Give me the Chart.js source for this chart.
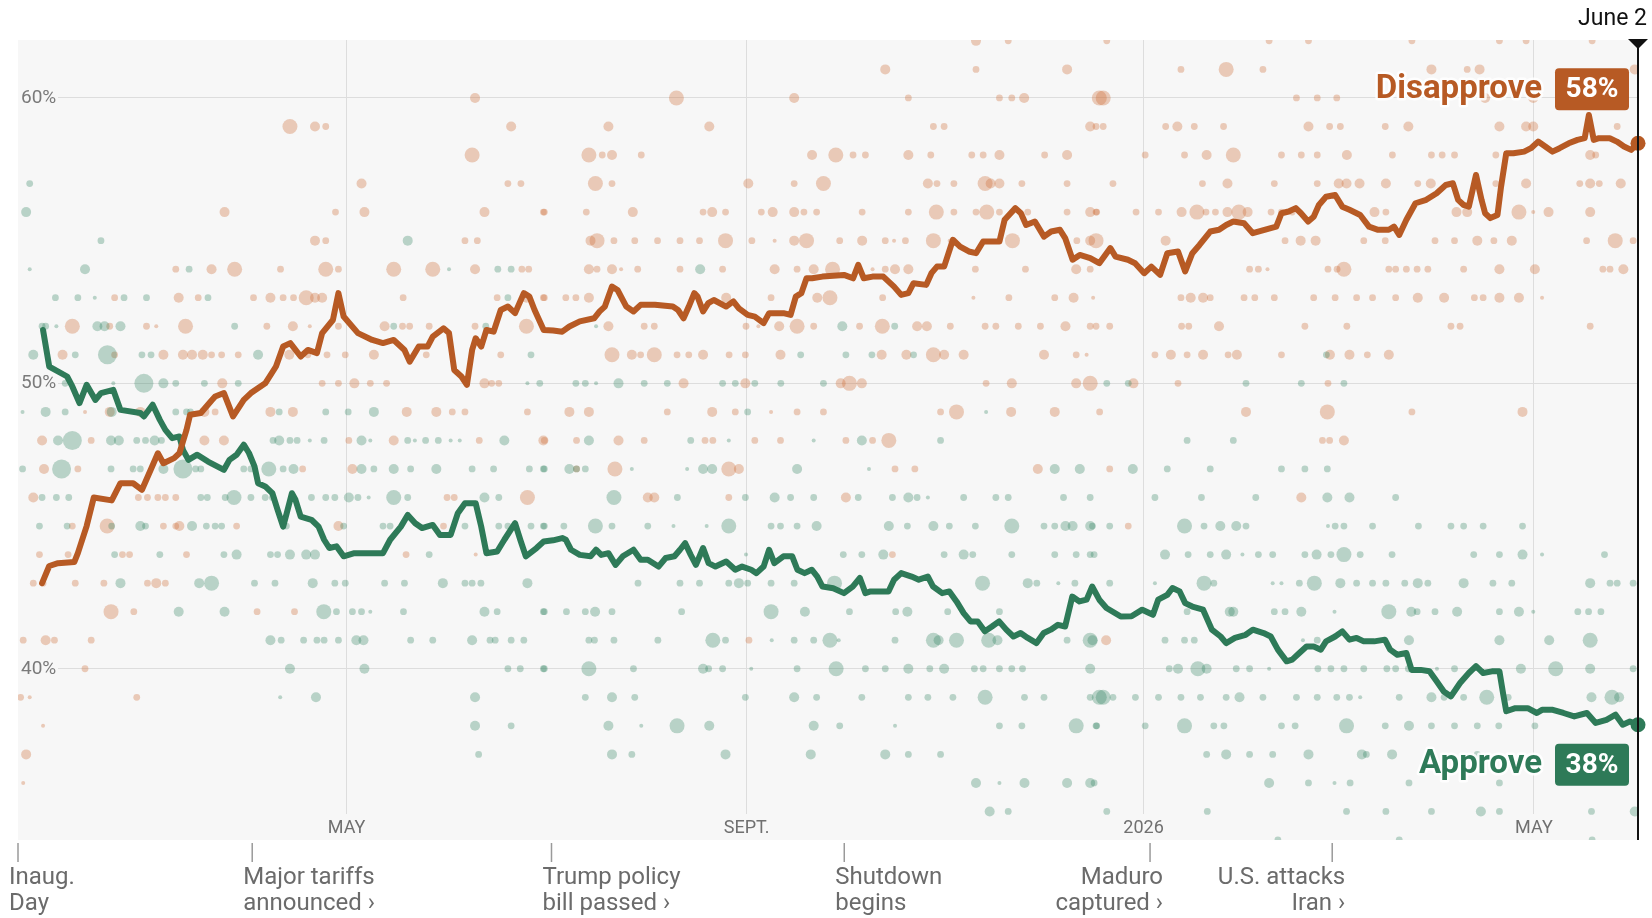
<!DOCTYPE html>
<html lang="en">
<head>
<meta charset="UTF-8">
<title>Trump approval rating</title>
<script src="https://cdn.jsdelivr.net/npm/chart.js"></script>
<style>
    body { margin: 0; background: #ffffff; }
    #wrap { width: 1652px; height: 918px; }
</style>
</head>
<body>
<div id="wrap"><canvas id="mainChart" width="1652" height="918"></canvas></div>
<script>
// x values are days since Inauguration Day (Jan. 20, 2025)
const monthTicks = [101, 224, 346, 466];
const monthLabels = ['MAY', 'SEPT.', '2026', 'MAY'];
const percentTicks = [40, 50, 60];
const lastDay = 498;
const lastDayLabel = 'June 2';

const eventDays = [0, 72, 164, 254, 348, 404];
const eventLabels = [
    ['Inaug.', 'Day'],
    ['Major tariffs', 'announced \u203A'],
    ['Trump policy', 'bill passed \u203A'],
    ['Shutdown', 'begins'],
    ['Maduro', 'captured \u203A'],
    ['U.S. attacks', 'Iran \u203A']
];

// polling averages [day, percent]
const disapproveAvg = [
    [7.4,43.0],[9.6,43.6],[12.3,43.7],[17.3,43.74],[18.4,44.05],[21.1,45.0],[23.3,46.0],[28.8,45.9],[31.5,46.5],[35.4,46.5],
    [38.1,46.27],[40.9,47.0],[43.0,47.55],[44.7,47.2],[48.0,47.38],[49.6,47.55],[51.8,48.37],[52.9,48.9],[56.2,48.96],[59.5,49.4],
    [60.6,49.54],[63.3,49.66],[66.1,48.84],[69.4,49.42],[71.6,49.66],[76.0,50.0],[79.3,50.59],[81.5,51.29],[83.7,51.41],[86.9,50.94],
    [89.1,51.17],[91.9,51.06],[93.5,51.76],[96.8,52.22],[98.5,53.16],[100.1,52.34],[104.5,51.76],[108.9,51.52],[112.2,51.41],[115.5,51.52],
    [118.8,51.17],[120.4,50.76],[123.2,51.29],[125.9,51.29],[127.5,51.64],[130.8,51.93],[132.5,51.76],[134.1,50.47],[136.3,50.24],[138.0,49.95],
    [139.6,51.17],[140.7,51.58],[142.4,51.29],[144.0,51.87],[146.2,51.81],[148.4,52.57],[150.6,52.69],[152.8,52.46],[155.5,53.16],[157.2,53.04],
    [158.8,52.57],[161.6,51.87],[164.5,51.85],[167.3,51.81],[169.5,51.99],[172.7,52.17],[177.1,52.28],[178.8,52.52],[180.4,52.69],[182.6,53.39],
    [184.3,53.27],[187.0,52.69],[189.2,52.52],[191.4,52.75],[195.8,52.75],[201.3,52.69],[202.9,52.57],[204.6,52.28],[206.2,52.69],[207.9,53.16],
    [208.9,53.04],[210.6,52.52],[212.2,52.81],[213.9,52.92],[217.7,52.69],[219.9,52.87],[221.6,52.63],[224.3,52.40],[226.5,52.34],[229.2,52.11],
    [230.9,52.46],[235.3,52.46],[237.5,52.40],[239.1,53.04],[240.8,53.16],[242.4,53.68],[244.1,53.68],[247.3,53.74],[253.9,53.80],[256.7,53.68],
    [258.3,54.15],[260.0,53.68],[262.7,53.74],[266.0,53.74],[269.3,53.39],[271.5,53.10],[273.7,53.16],[275.3,53.51],[279.2,53.45],[280.8,53.86],
    [282.5,54.09],[284.7,54.09],[287.4,55.03],[289.6,54.79],[292.3,54.62],[294.5,54.56],[296.7,54.97],[301.7,54.97],[303.3,55.73],[306.6,56.14],
    [308.3,55.96],[309.9,55.55],[312.6,55.67],[315.4,55.14],[317.6,55.32],[320.3,55.38],[321.9,55.09],[324.2,54.33],[326.4,54.50],[329.6,54.39],
    [332.4,54.21],[335.8,54.74],[337.4,54.44],[341.2,54.33],[343.4,54.21],[346.2,53.86],[348.4,54.09],[351.1,53.80],[353.3,54.56],[356.6,54.62],
    [358.8,53.92],[361.0,54.56],[363.2,54.85],[366.5,55.32],[369.2,55.38],[371.4,55.55],[373.6,55.67],[376.9,55.61],[379.6,55.26],[385.1,55.44],
    [386.8,55.49],[388.4,55.96],[390.6,56.02],[392.8,56.14],[394.4,55.96],[396.6,55.67],[398.3,55.84],[399.9,56.25],[402.1,56.54],[404.9,56.60],
    [407.1,56.19],[409.3,56.08],[412.6,55.90],[415.3,55.49],[418.1,55.38],[421.4,55.38],[423.0,55.49],[424.6,55.20],[426.8,55.73],[429.6,56.31],
    [432.9,56.43],[436.1,56.66],[438.9,56.95],[441.1,57.01],[442.7,56.43],[444.4,56.25],[446.0,56.19],[448.2,57.30],[449.9,56.43],[451.0,55.96],
    [452.6,55.79],[454.8,55.90],[455.9,56.89],[457.5,58.06],[459.7,58.06],[463.0,58.12],[465.1,58.24],[467.3,58.47],[469.5,58.30],[471.7,58.12],
    [473.9,58.24],[476.7,58.41],[479.4,58.53],[481.6,58.59],[482.9,59.40],[484.4,58.53],[486.0,58.59],[489.3,58.59],[491.5,58.47],[493.7,58.30],
    [495.9,58.18],[498,58.41]
];

const approveAvg = [
    [7.7,51.87],[9.6,50.59],[15.1,50.24],[16.7,49.89],[18.9,49.31],[21.1,49.95],[23.8,49.42],[25.5,49.66],[29.3,49.77],[31.5,49.07],
    [37.6,48.96],[38.7,48.84],[41.4,49.25],[43.6,48.72],[45.3,48.37],[47.4,48.08],[49.6,48.14],[50.7,47.67],[52.4,47.32],[55.1,47.50],
    [58.4,47.26],[63.3,46.97],[65.0,47.32],[67.2,47.50],[69.4,47.85],[71.0,47.56],[72.7,47.09],[73.8,46.50],[76.0,46.39],[78.2,46.15],
    [79.8,45.57],[81.5,44.98],[82.6,45.45],[84.2,46.15],[85.3,45.92],[86.9,45.33],[90.2,45.22],[92.4,44.98],[94.1,44.52],[95.7,44.23],
    [97.9,44.29],[100.1,43.94],[103.4,44.05],[112.2,44.05],[114.4,44.52],[117.7,44.98],[119.8,45.39],[122.1,45.10],[124.2,44.93],[127.5,45.04],
    [129.7,44.69],[133.0,44.69],[135.2,45.45],[137.4,45.80],[140.7,45.80],[142.4,44.98],[144.0,44.05],[147.3,44.11],[149.5,44.52],[152.8,45.10],
    [154.4,44.52],[156.1,43.94],[159.4,44.23],[161.6,44.46],[164.5,44.50],[167.3,44.58],[168.4,44.52],[170.0,44.17],[172.7,43.99],[176.0,43.94],
    [177.7,44.17],[179.3,43.99],[181.5,44.05],[183.7,43.64],[185.9,43.94],[189.2,44.17],[191.4,43.82],[193.6,43.82],[196.9,43.58],[199.1,43.88],
    [201.8,43.94],[203.5,44.17],[205.1,44.40],[206.8,43.99],[208.4,43.64],[210.6,44.23],[212.3,43.70],[214.4,43.58],[217.7,43.76],[220.5,43.47],
    [222.6,43.58],[225.4,43.47],[227.0,43.35],[229.2,43.58],[230.9,44.17],[232.5,43.70],[235.3,43.94],[238.0,43.94],[239.6,43.47],[241.8,43.35],
    [244.0,43.47],[245.7,43.23],[247.3,42.88],[250.6,42.82],[253.9,42.65],[256.6,42.88],[258.8,43.18],[260.5,42.65],[262.1,42.71],[267.6,42.71],
    [269.3,43.12],[271.5,43.35],[274.7,43.23],[276.9,43.12],[279.7,43.23],[281.3,42.88],[284.1,42.65],[286.3,42.71],[288.5,42.36],[290.7,41.95],
    [292.8,41.66],[295.0,41.66],[297.2,41.31],[299.4,41.48],[301.6,41.66],[303.8,41.37],[306.0,41.13],[308.2,41.25],[310.4,41.08],[313.1,40.90],
    [315.3,41.25],[317.5,41.37],[319.7,41.54],[321.9,41.48],[324.1,42.53],[326.3,42.36],[328.5,42.42],[330.2,42.88],[332.4,42.42],[334.6,42.13],
    [339.0,41.83],[342.3,41.84],[345.6,42.07],[348.9,41.89],[350.5,42.42],[353.3,42.59],[354.9,42.83],[357.1,42.71],[358.8,42.30],[361.0,42.18],
    [364.3,42.07],[367.0,41.37],[369.7,41.13],[371.4,40.90],[374.1,41.08],[377.4,41.19],[379.6,41.37],[382.9,41.25],[385.1,41.13],[387.3,40.67],
    [390.0,40.26],[391.7,40.32],[393.9,40.55],[396.1,40.78],[398.3,40.78],[400.5,40.67],[402.1,40.96],[404.9,41.13],[407.1,41.31],[409.3,41.02],
    [411.5,41.08],[413.7,40.96],[416.9,40.96],[420.2,41.02],[421.8,40.67],[424.0,40.49],[426.8,40.55],[428.4,39.96],[431.2,39.96],[433.9,39.91],
    [436.1,39.56],[438.3,39.20],[440.5,39.03],[443.3,39.50],[446.0,39.85],[448.2,40.09],[450.4,39.85],[453.1,39.91],[455.4,39.91],[456.5,39.15],
    [457.5,38.51],[460.3,38.62],[464.1,38.62],[466.9,38.45],[468.5,38.56],[471.8,38.56],[475.1,38.45],[478.4,38.33],[482.3,38.45],[485.0,38.10],
    [488.3,38.21],[491.1,38.39],[493.3,38.04],[495.5,38.15],[498,38.04]
];

// individual polls [day, percent, size class 1-5]
const disapprovePolls = [
    [140.5,60,3],
    [83.6,59,4],[91.3,59,3],[94.6,59,2],[151.6,59,3],
    [139.6,58,4],
    [105.6,57,3],[150.6,57,2],[154.6,57,2],
    [63.5,56,3],[97.6,56,2],[106.5,56,3],[143.4,56,3],[161.5,56,2],
    [91.3,55,3],[94.6,55,2],[137.4,55,2],[141.2,55,2],
    [48.5,54,2],[59.5,54,3],[66.6,54,4],[80.7,54,2],[94.6,54,4],[98.5,54,2],[115.5,54,4],[127.5,54,4],[140.5,54,3],[154.9,54,2],[157,54,2],
    [29.7,53,2],[49.4,53,3],[55.4,53,2],[72.4,53,2],[77.6,53,3],[81.5,53,2],[84.7,53,2],[88.6,53,4],[91.3,53,3],[93.5,53,3],[118.4,53,2],[147.3,53,2],[156.3,53,3],[161.5,53,2],
    [16.7,52,4],[28.2,52,2],[39.5,52,2],[42.5,52,1],[51.5,52,4],[76.5,52,2],[84.5,52,3],[89.7,52,1],[98.5,52,2],[112.7,52,3],[118.2,52,2],[120.4,52,2],[126.4,52,2],[140.5,52,2],[156.3,52,4],
    [13.7,51,3],[29.7,51,2],[44.7,51,3],[50.7,51,3],[53.5,51,3],[56.8,51,3],[59.5,51,2],[62.6,51,2],[67.7,51,2],[83.4,51,3],[89.1,51,2],[95,51,2],[100.6,51,2],[109.4,51,3],[125.5,51,2],[148.4,51,2],
    [62.8,50,3],[93.5,50,2],[98.5,50,2],[103.4,50,3],[108.3,50,2],[113.3,50,2],[143.4,50,3],[145.6,50,2],[147.8,50,2],
    [20.6,49,1],[28.2,49,3],[37.6,49,3],[57.3,49,3],[60.6,49,2],[77.6,49,3],[84.5,49,3],[119.5,49,3],[128.6,49,3],[133.5,49,2],[137.4,49,2],[156.6,49,2],
    [7.4,48,3],[22.5,48,2],[57.3,48,3],[63.3,48,3],[101.7,48,2],[115.5,48,3],[141.8,48,2],[161.5,48,3],
    [8,47,3],[18.4,47,2],[87.5,47,2],[102.8,47,3],
    [4.7,46,3],[37,46,2],[39.8,46,2],[43,46,2],[45.3,46,2],[48.5,46,2],[131.9,46,2],[134.1,46,2],[156.6,46,4],
    [16.7,45,2],[27.4,45,4],[44.7,45,2],[48.5,45,2],[49.6,45,3],[67.2,45,2],[98.5,45,3],[130.8,45,2],
    [6.6,44,2],[15.4,44,2],[32.1,44,2],[34.3,44,2],[51.8,44,2],[119.3,44,2],[140.7,44,1],
    [4.7,43,2],[7.7,43,2],[17.6,43,2],[26.4,43,2],[39.8,43,2],[42.5,43,3],[45.3,43,2],
    [28.6,42,4],[35.6,42,2],[73.5,42,2],[85,42,2],
    [1.6,41,2],[8.5,41,3],[11.2,41,2],[22.5,41,2],
    [20.6,40,2],
    [0.8,39,2],[3.6,39,1],[36.5,39,2],
    [7.7,38,1],
    [2.5,37,3],
    [1.6,36,1],
    [294.5,62,3],[304.4,62,2],
    [266.6,61,3],[294.5,61,2],[322.5,61,3],
    [202.4,60,4],[238.6,60,3],[273.7,60,2],[301.7,60,2],[305.5,60,2],[309.3,60,3],[332.4,60,4],
    [181.5,59,3],[212.5,59,3],[281.4,59,2],[284.7,59,2],[329.6,59,3],
    [175.5,58,4],[179.6,58,2],[182.6,58,3],[191.6,58,2],[244.1,58,3],[251.4,58,4],[256.7,58,2],[260.5,58,2],[273.7,58,3],[280.6,58,2],[293.2,58,2],[296.7,58,2],[301.7,58,3],[315.6,58,2],[322.5,58,3],
    [177.5,57,4],[182.6,57,2],[224.5,57,3],[238.6,57,2],[247.6,57,4],[279.7,57,3],[282.5,57,2],[287.7,57,2],[297.3,57,4],[299,57,3],[301.7,57,3],[308.6,57,2],[322.5,57,2],
    [161.8,56,2],[174.7,56,2],[189,56,3],[210.6,56,2],[213.4,56,3],[217.5,56,2],[228.5,56,2],[232,56,3],[238.6,56,3],[241.6,56,2],[245.5,56,2],[259.5,56,2],[273.7,56,2],[282.3,56,4],[287.7,56,2],[294.5,56,2],[297.8,56,4],[301.7,56,2],[310.4,56,2],[322.5,56,2],[329.6,56,3],[331.6,56,2],
    [176,55,3],[178,55,4],[183.2,55,2],[189.6,55,2],[196.6,55,2],[203.5,55,2],[209.5,55,2],[217.5,55,4],[225.6,55,2],[232.6,55,1],[238.6,55,3],[242.4,55,4],[252.6,55,2],[259.5,55,3],[266.6,55,2],[269.3,55,1],[272.8,55,2],[281.4,55,4],[286.4,55,1],[305.7,55,4],[325.5,55,2],[329.6,55,3],
    [175.5,54,3],[178,54,2],[182.6,54,3],[185.4,54,1],[190.5,54,2],[203.5,54,2],[216.6,54,2],[232.6,54,3],[239.5,54,2],[244.6,54,3],[250.4,54,4],[262.7,54,1],[266.6,54,2],[269.6,54,3],[273.7,54,3],[294.3,54,2],[309.7,54,2],[325.3,54,3],[329.6,54,2],
    [161.8,53,2],[168.4,53,2],[171.5,53,2],[175.5,53,3],[217.7,53,3],[231.5,53,2],[245.7,53,3],[249.6,53,4],[265.8,53,2],[293.7,53,1],[304.6,53,2],[318.7,53,2],[324.5,53,3],[330.5,53,1],
    [181.5,52,3],[192.5,52,2],[195.6,52,2],[223.8,52,2],[227.6,52,1],[234,52,3],[239.5,52,4],[244.6,52,2],[258.7,52,2],[265.7,52,4],[276.4,52,3],[279.4,52,3],[286.6,52,2],[297.3,52,2],[300.6,52,2],[307.5,52,2],[314.3,52,2],[322,52,3],[329.6,52,2],
    [182.6,51,4],[188.7,51,3],[191.4,51,2],[195.6,51,4],[202.6,51,2],[206.2,51,2],[210.6,51,3],[218.6,51,2],[223.6,51,2],[234.4,51,3],[265.5,51,3],[273.1,51,3],[281.4,51,4],[284.7,51,3],[290.7,51,3],[315.4,51,3],[325.3,51,2],[328.5,51,1],
    [204.6,50,3],[223.6,50,3],[252.9,50,3],[255.6,50,4],[259.4,50,3],[297.6,50,2],[305.5,50,3],[325.3,50,3],[329.6,50,4],
    [169.5,49,3],[175.5,49,3],[199.6,49,2],[213.4,49,3],[220.5,49,2],[231.5,49,1],[239.5,49,2],[247.6,49,2],[283.6,49,2],[288.5,49,4],[305.3,49,3],[318.7,49,3],
    [161.8,48,2],[171.7,48,2],[184.6,48,3],[192.5,48,2],[211.2,48,2],[213.6,48,2],[226.5,48,2],[234.4,48,2],[254.5,48,2],[262.7,48,2],[267.7,48,4],
    [171.7,47,2],[183.5,47,4],[218.5,47,4],[221.6,47,3],[269.6,47,2],[275.7,47,2],[313.5,47,3],
    [193.6,46,3],[195.6,46,3],[218.5,46,2],[254.5,46,3],
    [268.8,44,2],[224.7,41,2],
    [334.7,62,2],[384.6,62,2],[396.7,62,2],[428.5,62,2],[455.4,62,2],[463.6,62,2],[483.9,62,2],
    [357.5,61,2],[371.4,61,4],[382.7,61,2],[434.5,61,3],[445.5,61,2],[449.3,61,3],[497,61,3],
    [333.6,60,4],[393,60,2],[399.4,60,2],[405.4,60,2],[451,60,3],[465.8,60,3],
    [331.4,59,2],[333.6,59,2],[352.8,59,2],[356.4,59,3],[361.6,59,2],[370.6,59,2],[396.7,59,3],[403.2,59,2],[406.5,59,2],[420.3,59,2],[427.4,59,3],[455.4,59,3],[463.6,59,3],[465.8,59,3],[491.6,59,2],
    [346.5,58,2],[358.6,58,2],[365.4,58,3],[373.6,58,4],[388.4,58,2],[394.5,58,2],[399.4,58,2],[408.5,58,3],[422.5,58,2],[434.5,58,2],[437.8,58,2],[441.6,58,2],[454.3,58,2],[483.3,58,3],[485,58,2],
    [336.6,57,2],[364.1,57,2],[371.8,57,3],[386.2,57,2],[399.4,57,2],[406,57,3],[408.4,57,3],[412.4,57,3],[420.5,57,3],[430.3,57,2],[434.3,57,3],[454.3,57,2],[463.6,57,3],[480.1,57,2],[483.3,57,3],[486.1,57,2],[492.7,57,3],
    [331.4,56,2],[343.7,56,2],[350.6,56,2],[357.7,56,3],[362.4,56,4],[365.2,56,2],[368.1,56,2],[371.8,56,3],[375.3,56,4],[378,56,3],[385.2,56,2],[388.4,56,2],[391.7,56,2],[417,56,3],[420.5,56,2],[442.2,56,3],[445.5,56,3],[461.4,56,4],[465.8,56,1],[470.5,56,3],[483.3,56,3],
    [331.4,55,4],[352.8,55,3],[389.5,55,2],[394.3,55,3],[398.9,55,3],[413.7,55,2],[420.3,55,2],[435.6,55,2],[441.6,55,2],[448.6,55,3],[453.7,55,2],[459.2,55,3],[482.2,55,2],[491,55,4],[496.5,55,2],
    [378.6,54,2],[381.3,54,2],[384.1,54,1],[402.7,54,2],[405.5,54,2],[407.6,54,4],[421.4,54,2],[423.5,54,2],[426.8,54,2],[430.1,54,2],[433.4,54,2],[444.4,54,2],[455.4,54,3],[466.3,54,3],[487.2,54,2],[489.4,54,2],[493.5,54,3],
    [357.5,53,2],[360.5,53,3],[364.3,53,3],[366.5,53,2],[376.9,53,2],[380.2,53,2],[386.2,53,2],[398.3,53,2],[404.9,53,2],[411.5,53,2],[416.4,53,2],[423.5,53,2],[430.3,53,3],[438.4,53,3],[447.7,53,2],[450.4,53,2],[455.4,53,3],[461.4,53,3],[468.5,53,1],
    [331.4,52,2],[335.6,52,2],[357.7,52,2],[359.9,52,2],[369.2,52,3],[395.6,52,2],[408.5,52,2],[440.5,52,2],[443.3,52,2],[483.3,52,2],
    [349.5,51,2],[354.4,51,3],[359.4,51,2],[364.3,51,3],[372,51,2],[374.7,51,3],[388.4,51,2],[403.3,51,3],[409.3,51,3],[414.8,51,2],[421.4,51,3],
    [342.9,50,3],[356.6,50,2],[402.7,50,2],
    [332.5,49,2],[377.5,49,3],[402.5,49,4],[428.5,49,2],[462.5,49,3],
    [401,48,2],[403.2,48,2],[407.6,48,3],
    [335.6,47,2],[394.5,46,3],[341.3,45,2],[334.5,41,3]
];

const approvePolls = [
    [3.6,57,2],[2.5,56,3],[25.5,55,2],[119.8,55,3],
    [3.6,54,1],[20.6,54,3],[52.6,54,2],[132.5,54,1],[147.5,54,2],[151.6,54,2],
    [11.5,53,2],[18.4,53,2],[23.6,53,1],[32.6,53,2],[39.5,53,2],[58.4,53,2],[150.6,53,2],
    [7.4,52,2],[8.5,52,2],[11.8,52,1],[24.4,52,3],[26.6,52,3],[31.5,52,3],[66.6,52,2],[115.5,52,2],[143.8,52,2],
    [4.7,51,3],[17.6,51,2],[27.5,51,5],[38.1,51,2],[40.9,51,2],[73.8,51,3],[157.7,51,2],
    [14.5,50,2],[29.3,50,1],[38.7,50,5],[44.7,50,3],[48.5,50,2],[57.3,50,2],[67.7,50,2],[156.6,50,1],[160.4,50,2],
    [1.4,49,1],[8.5,49,3],[14.5,49,2],[28.8,49,3],[48.5,49,2],[51.8,49,2],[53,49,2],[80.3,49,2],[94.6,49,2],[101.5,49,2],[109.4,49,3],
    [12.3,48,3],[16.7,48,5],[28.6,48,3],[31,48,3],[36.5,48,2],[39.2,48,2],[42,48,3],[44.1,48,2],[78.4,48,2],[80.3,48,3],[83.6,48,2],[85.8,48,2],[89.7,48,1],[94.1,48,2],[105.6,48,3],[108.3,48,1],[119.8,48,2],[122,48,1],[125.3,48,2],[129.2,48,2],[133,48,1],[135.8,48,1],[149.5,48,3],
    [1.4,47,2],[13.4,47,5],[28.6,47,2],[35.4,47,2],[37.6,47,2],[44.7,47,3],[50.7,47,5],[54.6,47,2],[56.2,47,2],[69.4,47,2],[71.6,47,2],[77.1,47,4],[81.5,47,2],[84.7,47,3],[105.6,47,3],[109.4,47,2],[115.5,47,3],[120.7,47,2],[128.6,47,3],[139.6,47,2],[146.2,47,2],[157.2,47,2],[161.5,47,2],
    [7.4,46,2],[11.8,46,2],[15.6,46,2],[56.2,46,2],[58.2,46,2],[63.7,46,2],[66.4,46,4],[71.6,46,2],[76,46,2],[78.2,46,2],[90.2,46,2],[94.6,46,2],[97.4,46,2],[101.7,46,3],[104.5,46,2],[107.8,46,1],[115.5,46,4],[119.8,46,2],[143.4,46,3],[147.8,46,2],
    [6.6,45,2],[15.1,45,2],[28.8,45,2],[37.6,45,3],[39.2,45,2],[53.5,45,3],[57.9,45,2],[60.6,45,2],[62.6,45,2],[82.5,45,2],[100.1,45,2],[112.2,45,2],[114.4,45,2],[137.4,45,2],[147.8,45,2],[150.6,45,2],[157.7,45,2],[161.5,45,2],
    [29.7,44,2],[43.6,44,2],[63.3,44,2],[67.2,44,3],[77.6,44,2],[79.8,44,2],[83.6,44,3],[88.6,44,3],[91.3,44,3],[126.4,44,2],
    [31.5,43,3],[55.7,43,3],[59.5,43,4],[72.7,43,2],[79,43,2],[90.6,43,3],[97.4,43,2],[100.6,43,2],[112.7,43,2],[118.8,43,2],[130.6,43,3],[137.4,43,2],[139.6,43,2],[142.3,43,2],[156.6,43,3],
    [49.4,42,3],[63.5,42,3],[94,42,4],[97.9,42,2],[102.8,42,2],[105.6,42,2],[108.3,42,1],[118.5,42,2],[143.4,42,3],[147.3,42,2],[161.5,42,2],
    [77.6,41,3],[80.9,41,2],[87.8,41,2],[91.9,41,2],[94.1,41,2],[98.5,41,2],[104,41,3],[106.2,41,3],[120.7,41,2],[127.5,41,2],[139.6,41,3],[145.1,41,2],[146.7,41,2],[151.6,41,2],[155.5,41,2],
    [83.6,40,3],[106.5,40,3],[150.6,40,2],[154.4,40,2],[161.5,40,2],
    [80.6,39,1],[91.6,39,3],[140.5,39,3],[140.5,38,3],[151.6,38,2],[141.6,37,2],
    [209.7,54,3],
    [177.7,52,1],[253.4,52,3],[269.5,52,2],
    [240.6,51,2],[254.5,51,2],[262.5,51,2],[275.3,51,2],
    [171.5,50,2],[174.4,50,2],[177.7,50,1],[184.6,50,3],[192.5,50,2],[199.6,50,2],[216.6,50,2],[220.5,50,2],[226.5,50,2],[234.5,50,2],[247.6,50,2],
    [224.3,49,2],[297.6,49,1],
    [175.5,48,3],[206.8,48,2],[218.5,48,1],[244.6,48,1],[259.4,48,3],[283.6,48,2],
    [161.8,47,2],[169.5,47,3],[171.7,47,2],[174.4,47,2],[188.7,47,1],[205.7,47,1],[210.6,47,3],[213.4,47,3],[239.5,47,3],[261.6,47,1],[318.7,47,3],[326.4,47,3],
    [183.2,46,4],[202.7,46,2],[223.6,46,2],[232.6,46,3],[237.5,46,2],[244.6,46,2],[258.3,46,2],[268.8,46,2],[273.7,46,3],[276.4,46,2],[279.7,46,1],[290.7,46,2],[300.6,46,2],[304.4,46,2],[321.4,46,2],[329.6,46,2],
    [161.8,45,2],[167.8,45,2],[177.5,45,4],[182.6,45,2],[193.6,45,2],[201.5,45,1],[211.7,45,1],[218.5,45,4],[231.5,45,2],[234.4,45,2],[239.5,45,2],[245.5,45,3],[267.7,45,3],[273.4,45,2],[281.4,45,3],[286.3,45,2],[294.3,45,2],[305.5,45,4],[315.4,45,2],[318.7,45,2],[322,45,3],[324.2,45,3],[329.6,45,3],
    [223.8,44,1],[253.7,44,2],[259.4,44,2],[266,44,3],[284.7,44,2],[290.7,44,3],[293.5,44,2],[305.5,44,2],[318.7,44,2],[325.3,44,2],[329.6,44,2],
    [190.6,43,2],[203.5,43,2],[209.5,43,2],[218.5,43,2],[221.6,43,3],[224.3,43,2],[231.5,43,2],[238.6,43,2],[251,43,4],[296.5,43,4],[310.4,43,3],[313.2,43,2],[319.8,43,1],[324.9,43,2],
    [161.8,42,2],[168.6,42,2],[174.4,42,2],[177.4,42,3],[182.6,42,2],[204,42,2],[231.5,42,4],[241.9,42,3],[255.6,42,2],[269.8,42,2],[273.4,42,3],[285.8,42,2],[301.7,42,2],
    [175.5,41,2],[177.2,41,2],[183.2,41,2],[196.7,41,2],[213.6,41,4],[217.5,41,2],[231.7,41,1],[238.6,41,2],[244.6,41,2],[249.6,41,4],[252.3,41,1],[269.6,41,2],[281.4,41,4],[283,41,3],[288.5,41,4],[298.4,41,4],[301.1,41,3],[322.5,41,2],[329.6,41,4],
    [161.8,40,2],[175.5,40,4],[189.2,40,2],[210.6,40,3],[212.3,40,2],[216.6,40,2],[225.4,40,1],[239.5,40,2],[251.5,40,4],[260.5,40,2],[266.6,40,2],[273.7,40,3],[280.3,40,2],[284.7,40,3],[294,40,2],[296.7,40,2],[301.7,40,2],[305.5,40,2],[308.8,40,2],[329.6,40,3],
    [174.4,39,2],[182.6,39,3],[189.6,39,2],[223.6,39,2],[238.6,39,3],[245.5,39,2],[259.4,39,2],[273.7,39,2],[279.7,39,2],[287.4,39,2],[297.3,39,4],[309.4,39,2],[315.4,39,2],[329.6,39,2],[332.4,39,4],
    [181.5,38,3],[191.6,38,1],[202.6,38,4],[212.5,38,3],[244.6,38,3],[252.6,38,2],[269.6,38,1],[301.7,38,2],[308.6,38,2],[325.3,38,4],[331.6,38,2],
    [182.6,37,3],[188.7,37,2],[217.5,37,3],[243.7,37,3],[266.6,37,3],[273.7,37,2],[283.6,37,2],
    [294.5,36,3],[301.7,36,1],[309.4,36,3],[322.5,36,3],[329.6,36,3],
    [298.7,35,3],[304.4,35,2],
    [402.2,51,2],
    [334.7,50,2],[341.3,50,2],[377.5,50,2],[394.5,50,2],[407.6,50,2],
    [359.4,48,2],[373.6,48,2],
    [342.7,47,3],[353.3,47,2],[366.5,47,2],[388.4,47,2],[395.6,47,2],[402.5,47,2],
    [349.5,46,2],[363.8,46,2],[380.5,46,2],[402.5,46,3],[409.3,46,3],[423.5,46,2],
    [330.3,45,2],[335.6,45,2],[358.6,45,4],[364.6,45,2],[369.6,45,3],[374.5,45,3],[377.5,45,2],[402.7,45,1],[404.9,45,2],[407.6,45,2],[416.4,45,2],[430.5,45,2],[440.5,45,2],[444.4,45,2],[450.4,45,2],[462.5,45,2],
    [330.8,44,2],[352.6,44,3],[359.7,44,2],[366.5,44,2],[371.4,44,3],[376.4,44,1],[381.3,44,2],[385.7,44,2],[395.6,44,2],[399.2,44,3],[403.6,44,2],[407.6,44,4],[412.6,44,2],[422.4,44,2],[447.5,44,2],[455.4,44,2],[462.5,44,3],[468.5,44,1],[487.7,44,2],
    [335.6,43,2],[349.5,43,1],[364.6,43,4],[367.6,43,2],[385.7,43,1],[388.4,43,1],[393.9,43,2],[398.5,43,4],[406.5,43,3],[411.5,43,2],[416.4,43,2],[420.5,43,2],[426.3,43,2],[430.3,43,3],[433.4,43,2],[444.4,43,3],[453.4,43,2],[459.2,43,2],[483.3,43,3],[489.4,43,2],[491.6,43,2],[496.5,43,2],
    [359.4,42,2],[372.5,42,3],[373.6,42,3],[386.2,42,2],[389.5,42,2],[394.5,42,3],[404.7,42,1],[421.4,42,4],[428.3,42,3],[430.1,42,2],[435.6,42,2],[442.4,42,3],[455.4,42,2],[461.4,42,3],[465.8,42,1],[479.5,42,2],[482.8,42,2],[486.6,42,2],
    [330.3,41,3],[352.6,41,2],[358.6,41,2],[361.6,41,2],[395,41,1],[399.4,41,2],[427.6,41,3],[455.4,41,3],[470.7,41,3],[483.3,41,4],
    [353.9,40,2],[356.6,40,3],[362.7,40,4],[365.4,40,3],[374.5,40,2],[378.6,40,2],[384.6,40,1],[399.6,40,2],[403.6,40,2],[407.6,40,2],[413.7,40,2],[420.8,40,2],[423.5,40,2],[427.4,40,2],[436.2,40,1],[441.6,40,2],[462,40,3],[472.7,40,4],[483.3,40,3],[496.5,40,2],
    [333.6,39,4],[336.6,39,2],[343.5,39,2],[350.6,39,2],[357.5,39,2],[363.5,39,2],[371.4,39,2],[375.5,39,3],[382.7,39,2],[393,39,2],[399.4,39,2],[405.4,39,2],[409.3,39,2],[412.6,39,1],[424.6,39,2],[434.5,39,3],[438.4,39,2],[444.4,39,2],[451.5,39,4],[458.1,39,2],[483.7,39,3],[490,39,4],[492.2,39,3],
    [331.4,38,2],[346.5,38,2],[358.6,38,4],[367.6,38,2],[370.7,38,2],[388.4,38,2],[392.6,38,2],[408.4,38,4],[420.3,38,2],[427.6,38,3],[434.5,38,2],[441.6,38,2],[448.6,38,2],[455.2,38,2],[466.3,38,2],
    [365.4,37,2],[371.4,37,3],[378.6,37,2],[385.7,37,2],[396.7,37,3],[413.1,37,3],[414.5,37,2],[422.4,37,3],[448.6,37,2],
    [330.8,36,2],[384.6,36,3],[396.7,36,2],[404.7,36,1],[409.5,36,2],[427.6,36,2],[455.4,36,2],
    [334.7,35,2],[365.6,35,2],[408.4,35,2],[420.5,35,2],[434.5,35,2],[449.7,35,3],[455.4,35,2],[483.7,35,2],[497,35,3],
    [387.3,34,2],[424.6,34,2],[483.9,34,2]
];

var ORANGE = '#b75a24';
var GREEN = '#2e7a58';
var dotRadius = [0, 2, 3.4, 5, 7.5, 9.5];
var FONT = 'Roboto, "Liberation Sans", sans-serif';

function pollDataset(polls, color, order) {
    return {
        type: 'scatter',
        data: polls.map(function (p) { return { x: p[0], y: p[1], s: p[2] }; }),
        backgroundColor: color,
        borderWidth: 0,
        pointRadius: function (ctx) { return ctx.raw ? dotRadius[ctx.raw.s] : 3; },
        pointHoverRadius: 0,
        order: order
    };
}

function avgDataset(avg, color) {
    return {
        type: 'line',
        data: avg.map(function (p) { return { x: p[0], y: p[1] }; }),
        borderColor: color,
        backgroundColor: color,
        borderWidth: 6,
        borderJoinStyle: 'round',
        borderCapStyle: 'round',
        tension: 0,
        pointRadius: function (ctx) { return ctx.dataIndex === avg.length - 1 ? 7.5 : 0; },
        pointBorderWidth: 0,
        clip: 12,
        order: 0
    };
}

// light grey plot area, axis labels and the annotations around the plot
var decorations = {
    id: 'decorations',
    beforeDraw: function (chart) {
        var a = chart.chartArea, ctx = chart.ctx;
        ctx.save();
        ctx.fillStyle = '#f7f7f7';
        ctx.fillRect(a.left, a.top, a.right - a.left, a.bottom - a.top);
        ctx.restore();
    },
    beforeDatasetsDraw: function (chart) {
        var a = chart.chartArea, ctx = chart.ctx;
        var xs = chart.scales.x, ys = chart.scales.y;
        ctx.save();
        ctx.textBaseline = 'middle';
        ctx.font = '19px ' + FONT;
        ctx.textAlign = 'left';
        percentTicks.forEach(function (v) {
            var py = ys.getPixelForValue(v);
            ctx.fillStyle = '#f7f7f7';
            ctx.fillRect(a.left, py - 9, 40, 18);
            ctx.fillStyle = '#7a7a7a';
            ctx.fillText(v + '%', a.left + 3, py);
        });
        ctx.font = '18px ' + FONT;
        ctx.textAlign = 'center';
        monthTicks.forEach(function (d, i) {
            var px = xs.getPixelForValue(d);
            var w = ctx.measureText(monthLabels[i]).width + 12;
            ctx.fillStyle = '#f7f7f7';
            ctx.fillRect(px - w / 2, a.bottom - 26, w, 26);
            ctx.fillStyle = '#707070';
            ctx.fillText(monthLabels[i], px, a.bottom - 12);
        });
        ctx.restore();
    },
    afterDraw: function (chart) {
        var a = chart.chartArea, ctx = chart.ctx;
        var xs = chart.scales.x, ys = chart.scales.y;
        ctx.save();

        // events under the plot
        ctx.font = '24px ' + FONT;
        ctx.textBaseline = 'middle';
        eventDays.forEach(function (d, i) {
            var px = xs.getPixelForValue(d);
            ctx.strokeStyle = '#9a9a9a';
            ctx.lineWidth = 1.5;
            ctx.beginPath();
            ctx.moveTo(px, a.bottom + 3);
            ctx.lineTo(px, a.bottom + 22);
            ctx.stroke();
            var right = i >= 4;
            ctx.textAlign = right ? 'right' : 'left';
            var tx = right ? px + 13 : px - 9;
            ctx.fillStyle = '#6b6b6b';
            ctx.fillText(eventLabels[i][0], tx, a.bottom + 38);
            ctx.fillText(eventLabels[i][1], tx, a.bottom + 64);
        });

        // today marker
        var lx = xs.getPixelForValue(lastDay);
        ctx.strokeStyle = '#111111';
        ctx.lineWidth = 2;
        ctx.beginPath();
        ctx.moveTo(lx, a.top);
        ctx.lineTo(lx, a.bottom);
        ctx.stroke();
        ctx.fillStyle = '#111111';
        ctx.beginPath();
        ctx.moveTo(lx - 10, a.top - 1);
        ctx.lineTo(lx + 10, a.top - 1);
        ctx.lineTo(lx, a.top + 9);
        ctx.closePath();
        ctx.fill();
        ctx.font = '23px ' + FONT;
        ctx.textAlign = 'right';
        ctx.fillText(lastDayLabel, lx + 9, a.top - 21);

        // end labels
        function endLabel(name, value, color, dy) {
            var py = ys.getPixelForValue(value) + dy;
            var bx = lx - 83, bw = 74, bh = 42;
            ctx.fillStyle = color;
            ctx.beginPath();
            ctx.roundRect(bx, py - bh / 2, bw, bh, 4);
            ctx.fill();
            ctx.font = 'bold 28px ' + FONT;
            ctx.textAlign = 'center';
            ctx.fillStyle = '#ffffff';
            ctx.fillText(Math.round(value) + '%', bx + bw / 2, py + 1);
            ctx.font = 'bold 33px ' + FONT;
            ctx.textAlign = 'right';
            ctx.lineWidth = 5;
            ctx.lineJoin = 'round';
            ctx.strokeStyle = 'rgba(255,255,255,0.85)';
            ctx.strokeText(name, bx - 13, py);
            ctx.fillStyle = color;
            ctx.fillText(name, bx - 13, py);
        }
        endLabel('Disapprove', disapproveAvg[disapproveAvg.length - 1][1], ORANGE, -54);
        endLabel('Approve', approveAvg[approveAvg.length - 1][1], GREEN, 40);

        ctx.restore();
    }
};

var ctx = document.getElementById('mainChart').getContext('2d');
var chart = new Chart(ctx, {
    type: 'scatter',
    data: {
        datasets: [
            avgDataset(disapproveAvg, ORANGE),
            avgDataset(approveAvg, GREEN),
            pollDataset(approvePolls, 'rgba(40,125,90,0.30)', 1),
            pollDataset(disapprovePolls, 'rgba(205,105,50,0.32)', 2)
        ]
    },
    options: {
        responsive: false,
        animation: false,
        events: [],
        layout: { padding: { left: 18, right: 14, top: 40, bottom: 78 } },
        plugins: {
            legend: { display: false },
            tooltip: { enabled: false }
        },
        scales: {
            x: {
                type: 'linear',
                min: 0,
                max: lastDay,
                afterBuildTicks: function (axis) {
                    axis.ticks = monthTicks.map(function (v) { return { value: v }; });
                },
                grid: { color: '#dddddd', lineWidth: 1, drawTicks: false },
                border: { display: false },
                ticks: { display: false }
            },
            y: {
                min: 34,
                max: 62.03,
                afterBuildTicks: function (axis) {
                    axis.ticks = percentTicks.map(function (v) { return { value: v }; });
                },
                grid: { color: '#dddddd', lineWidth: 1, drawTicks: false },
                border: { display: false },
                ticks: { display: false }
            }
        }
    },
    plugins: [decorations]
});
</script>
</body>
</html>
